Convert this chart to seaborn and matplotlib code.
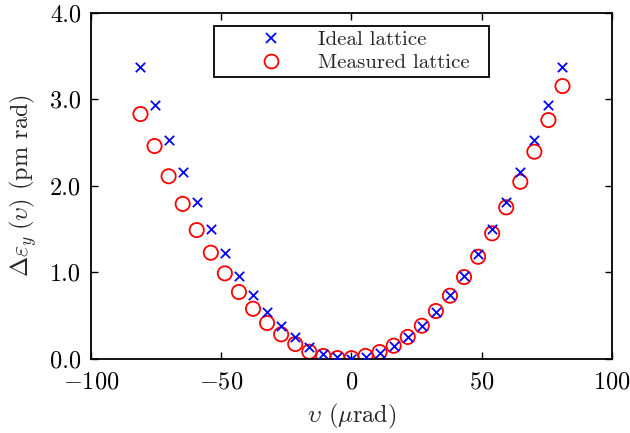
import numpy as np
import pandas as pd
import matplotlib
matplotlib.use("Agg")
import matplotlib.pyplot as plt
import seaborn as sns
from matplotlib.lines import Line2D

# --- data ---
upsilon = [-81.0, -75.6, -70.2, -64.8, -59.4, -54.0, -48.6, -43.2, -37.8, -32.4,
           -27.0, -21.6, -16.2, -10.8, -5.4, 0.0, 5.4, 10.8, 16.2, 21.6,
           27.0, 32.4, 37.8, 43.2, 48.6, 54.0, 59.4, 64.8, 70.2, 75.6, 81.0]
ideal = [3.37, 2.93, 2.53, 2.16, 1.815, 1.495, 1.22, 0.955, 0.735, 0.535,
         0.376, 0.245, 0.137, 0.055, 0.012, 0.0, 0.015, 0.06, 0.14, 0.245,
         0.38, 0.54, 0.735, 0.955, 1.215, 1.495, 1.81, 2.16, 2.53, 2.93, 3.37]
measured = [2.83, 2.46, 2.11, 1.79, 1.487, 1.225, 0.986, 0.77, 0.576, 0.411,
            0.28, 0.168, 0.079, 0.029, 0.005, 0.004, 0.03, 0.075, 0.148, 0.25,
            0.38, 0.55, 0.727, 0.943, 1.178, 1.449, 1.75, 2.046, 2.394, 2.76, 3.154]
labels = ["Ideal lattice", "Measured lattice"]
xticks = [-100, -50, 0, 50, 100]
yticks = [0.0, 1.0, 2.0, 3.0, 4.0]

df = pd.DataFrame({"u": upsilon, "ideal": ideal, "measured": measured})

sns.set_theme(style="ticks")
plt.rcParams["font.family"] = ["cmr10", "DejaVu Serif"]
plt.rcParams["mathtext.fontset"] = "cm"
plt.rcParams["axes.formatter.use_mathtext"] = True
plt.rcParams["axes.unicode_minus"] = True

fig = plt.figure(figsize=(6.3, 4.33), dpi=100)
ax = fig.add_axes([0.1444, 0.172, 0.8270, 0.798])

sns.scatterplot(data=df, x="u", y="measured", marker="o", s=105,
                facecolors="none", edgecolors="red", linewidths=1.3,
                ax=ax, zorder=2, legend=False)
sns.scatterplot(data=df, x="u", y="ideal", marker="x", s=45,
                color="blue", linewidths=1.3, ax=ax, zorder=3, legend=False)

ax.set_xlim(-100, 100)
ax.set_ylim(0, 4)
ax.set_xticks(xticks)
ax.set_yticks(yticks)
ax.set_xticklabels([f"${v}$" if v >= 0 else f"$-{abs(v)}$" for v in xticks])
ax.set_yticklabels([f"{v:.1f}" for v in yticks])
ax.tick_params(direction="in", length=5, width=1, top=True, right=True,
               labelsize=17.5, colors="black")
ax.tick_params(axis="x", pad=9.5)
ax.tick_params(axis="y", pad=7)
for sp in ax.spines.values():
    sp.set_visible(True)
    sp.set_linewidth(1.3)
    sp.set_color("black")

ax.set_xlabel(r"$\upsilon$ ($\mu$rad)", fontsize=17.5, labelpad=6)
ax.set_ylabel(r"$\Delta\varepsilon_y\;(\upsilon)$ (pm rad)", fontsize=17.5, labelpad=8)

handles = [Line2D([], [], linestyle="none", marker="x", color="blue",
                  markersize=7, markeredgewidth=1.3),
           Line2D([], [], linestyle="none", marker="o", markerfacecolor="none",
                  markeredgecolor="red", markersize=10, markeredgewidth=1.3)]
leg = ax.legend(handles, [l + "  " for l in labels], loc="upper center",
                bbox_to_anchor=(0.5, 0.962),
                fontsize=15, frameon=True, fancybox=False, framealpha=1,
                edgecolor="black", borderpad=0.22, labelspacing=0.2,
                handlelength=5.0, handletextpad=-0.24, borderaxespad=0)
leg.get_frame().set_linewidth(1.3)

fig.savefig("out.png", dpi=100)
